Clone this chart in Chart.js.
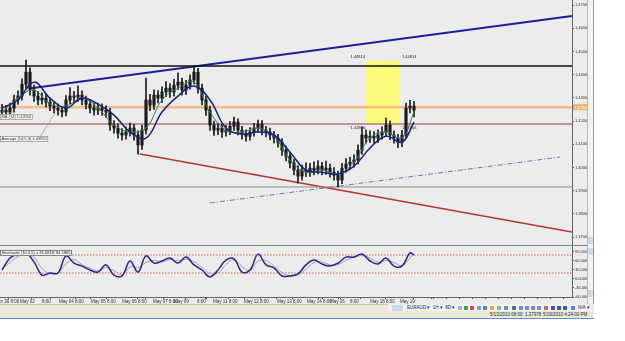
<!DOCTYPE html>
<html>
<head>
<meta charset="utf-8">
<script src="https://cdn.jsdelivr.net/npm/chart.js@4.4.0/dist/chart.umd.min.js"></script>
<style>
  body { margin: 0; background: #fff; font-family: "Liberation Sans", Arial, sans-serif; }
  #wrap { position: relative; width: 594px; height: 319px; background: #ececec; }
  #c { position: absolute; left: 0; top: 0; }
  #sb { position: absolute; left: 587px; top: 0; width: 5px; height: 304px; background: #f4f4ef; border-left: 1px solid #b8b8b8; border-right: 1px solid #9a9a9a; }
  .arr { position: absolute; left: 0; width: 5px; height: 7px; background: #c9d8ee; }
  #tb { position: absolute; left: 0; top: 304px; width: 593px; height: 13px; background: #ece9d8; border-top: 1px solid #c9c5b2; font-size: 4.5px; color: #223; }
  #tb span { position: absolute; white-space: nowrap; }
  #tb i { position: absolute; top: 1px; width: 4px; height: 4px; }
  #bl { position: absolute; left: 0; top: 318px; width: 594px; height: 1px; background: #5d8fd6; }
</style>
</head>
<body>
<div id="wrap">
  <canvas id="c" width="587" height="304"></canvas>
  <div id="sb">
    <div class="arr" style="top:237px"></div>
    <div class="arr" style="top:248px"></div>
    <div class="arr" style="top:290px"></div>
  </div>
  <div id="tb">
    <span style="left:388px;top:-1px;width:205px;height:7px;background:#f1f1ee;"></span>
    <span style="left:392px;top:0;width:11px;height:6px;background:#c9d8ee;"></span>
    <span style="left:407px;top:0;">EURAUD ▾ &nbsp;1H ▾ &nbsp;8D ▾ &nbsp; ▾</span>
    <i style="left:458px;background:#9bb7e0"></i><i style="left:464px;background:#4aa04a"></i>
    <i style="left:470px;background:#d05050"></i><i style="left:477px;background:#7aa0d8"></i>
    <i style="left:483px;background:#5b7fc0"></i><i style="left:490px;background:#e0b050"></i>
    <i style="left:497px;background:#7cc07c"></i><i style="left:504px;background:#6a8fd0"></i>
    <i style="left:512px;background:#5070b0"></i><i style="left:519px;background:#7090d0"></i>
    <i style="left:525px;background:#7090d0"></i><i style="left:531px;background:#7090d0"></i>
    <i style="left:537px;background:#7090d0"></i><i style="left:544px;background:#c07070"></i>
    <i style="left:551px;background:#3a5aa0"></i><i style="left:557px;background:#3a5aa0"></i>
    <i style="left:563px;background:#3a5aa0"></i><i style="left:571px;background:#5a8ad0"></i>
    <span style="left:578px;top:0;">N/A ▾</span>
    <span style="left:490px;top:7px;">5/13/2010 08:00 &nbsp;1.37978</span>
    <span style="left:543px;top:7px;">5/19/2010 4:24:00 PM</span>
  </div>
  <div id="bl"></div>
</div>
<script>
// candles, EURAUD H4
const openP = [
  1.4239,1.4247,1.4239,1.4256,1.4291,1.4308,1.4359,1.4411,1.4334,1.4308,
  1.4291,1.4299,1.4282,1.4265,1.4256,1.4247,1.4239,1.4291,1.4308,1.4303,
  1.4312,1.4291,1.4273,1.4256,1.4247,1.4256,1.4247,1.4239,1.4183,1.4170,
  1.4148,1.4140,1.4153,1.4170,1.4140,1.4097,1.4161,1.4291,1.4269,1.4312,
  1.4299,1.4325,1.4342,1.4325,1.4355,1.4368,1.4334,1.4355,1.4377,1.4411,
  1.4342,1.4291,1.4247,1.4183,1.4161,1.4170,1.4153,1.4161,1.4178,1.4196,
  1.4161,1.4144,1.4135,1.4153,1.4170,1.4187,1.4161,1.4153,1.4140,1.4127,
  1.4109,1.4075,1.4049,1.4019,1.3989,1.3963,1.3989,1.3980,1.3997,1.3989,
  1.4006,1.3989,1.3997,1.3980,1.3967,1.3946,1.3997,1.4015,1.4023,1.4032,
  1.4075,1.4140,1.4127,1.4135,1.4127,1.4140,1.4153,1.4183,1.4140,1.4127,
  1.4109,1.4140,1.4256,1.4265
];
const highP = [
  1.4272,1.4268,1.4278,1.4312,1.4330,1.4382,1.4463,1.4430,1.4355,1.4328,
  1.4322,1.4320,1.4300,1.4285,1.4275,1.4265,1.4310,1.4344,1.4328,1.4352,
  1.4330,1.4308,1.4292,1.4276,1.4278,1.4275,1.4266,1.4255,1.4202,1.4188,
  1.4168,1.4175,1.4192,1.4186,1.4158,1.4182,1.4385,1.4315,1.4335,1.4332,
  1.4348,1.4370,1.4362,1.4380,1.4408,1.4385,1.4376,1.4400,1.4437,1.4428,
  1.4360,1.4308,1.4265,1.4200,1.4192,1.4188,1.4182,1.4198,1.4217,1.4210,
  1.4178,1.4162,1.4172,1.4190,1.4204,1.4202,1.4178,1.4170,1.4156,1.4143,
  1.4125,1.4092,1.4065,1.4035,1.4008,1.4010,1.4020,1.4018,1.4025,1.4030,
  1.4022,1.4028,1.4015,1.4000,1.3985,1.4018,1.4038,1.4045,1.4055,1.4098,
  1.4174,1.4162,1.4158,1.4155,1.4162,1.4175,1.4213,1.4200,1.4158,1.4143,
  1.4160,1.4278,1.4290,1.4285
];
const lowP = [
  1.4218,1.4215,1.4220,1.4238,1.4272,1.4290,1.4340,1.4312,1.4285,1.4270,
  1.4273,1.4260,1.4245,1.4235,1.4226,1.4218,1.4222,1.4275,1.4282,1.4285,
  1.4270,1.4252,1.4235,1.4226,1.4228,1.4225,1.4216,1.4160,1.4148,1.4126,
  1.4118,1.4122,1.4135,1.4118,1.4058,1.4078,1.4145,1.4245,1.4250,1.4278,
  1.4280,1.4305,1.4302,1.4308,1.4335,1.4312,1.4315,1.4338,1.4360,1.4320,
  1.4270,1.4225,1.4160,1.4138,1.4142,1.4130,1.4135,1.4142,1.4160,1.4140,
  1.4122,1.4114,1.4118,1.4135,1.4152,1.4140,1.4132,1.4120,1.4106,1.4088,
  1.4052,1.4028,1.3998,1.3968,1.3933,1.3945,1.3960,1.3962,1.3968,1.3972,
  1.3968,1.3970,1.3958,1.3945,1.3916,1.3930,1.3980,1.3995,1.4002,1.4015,
  1.4058,1.4105,1.4108,1.4105,1.4108,1.4122,1.4135,1.4120,1.4105,1.4085,
  1.4090,1.4125,1.4235,1.4218
];
const closeP = [
  1.4247,1.4239,1.4256,1.4291,1.4308,1.4359,1.4411,1.4334,1.4308,1.4291,
  1.4299,1.4282,1.4265,1.4256,1.4247,1.4239,1.4291,1.4308,1.4303,1.4312,
  1.4291,1.4273,1.4256,1.4247,1.4256,1.4247,1.4239,1.4183,1.4170,1.4148,
  1.4140,1.4153,1.4170,1.4140,1.4097,1.4161,1.4291,1.4269,1.4312,1.4299,
  1.4325,1.4342,1.4325,1.4355,1.4368,1.4334,1.4355,1.4377,1.4411,1.4342,
  1.4291,1.4247,1.4183,1.4161,1.4170,1.4153,1.4161,1.4178,1.4196,1.4161,
  1.4144,1.4135,1.4153,1.4170,1.4187,1.4161,1.4153,1.4140,1.4127,1.4109,
  1.4075,1.4049,1.4019,1.3989,1.3963,1.3989,1.3980,1.3997,1.3989,1.4006,
  1.3989,1.3997,1.3980,1.3967,1.3946,1.3997,1.4015,1.4023,1.4032,1.4075,
  1.4140,1.4127,1.4135,1.4127,1.4140,1.4153,1.4183,1.4140,1.4127,1.4109,
  1.4140,1.4256,1.4265,1.4247
];

// moving averages, read every 4th candle
const maIdx = [0,4,8,12,16,20,24,28,32,36,40,44,48,52,56,60,64,68,72,76,80,84,88,92,96,100,103];
const maSlow = [1.4256,1.4291,1.4368,1.4299,1.4256,1.4299,1.4273,1.4226,1.4153,1.4127,1.4239,1.4308,1.4351,
  1.4291,1.4170,1.4144,1.4153,1.4140,1.4066,1.3989,1.3980,1.3972,1.4006,1.4084,1.4135,1.4109,1.4196];
const maFast = [1.4239,1.4299,1.4334,1.4273,1.4265,1.4299,1.4256,1.4183,1.4153,1.4170,1.4291,1.4342,1.4368,
  1.4239,1.4161,1.4153,1.4170,1.4135,1.4032,1.3980,1.3989,1.3972,1.4023,1.4127,1.4153,1.4127,1.4239];

// oscillator, every 2nd candle (last one at 103)
const oscMain = [30,70,83,87,57,13,20,20,77,53, 43,30,23,47,13,10,60,23,77,53,
  60,70,53,73,47,30,7,30,63,67, 23,30,83,47,37,10,10,17,47,63,
  50,43,53,73,73,83,60,50,70,43, 43,87,80];
const oscSignal = [35,55,75,84,72,35,18,20,50,65, 48,36,27,38,28,14,40,38,55,62,
  57,65,60,66,58,38,18,20,48,64, 42,28,60,62,42,22,10,14,32,55,
  57,47,48,62,72,78,70,56,62,55, 45,70,84];
const oscLevels = [80, 20];

// drawn objects
const hLevels = [1.4437, 1.4260, 1.4187, 1.3916];
const trendBlue = [[7.25, 1.4342], [142.5, 1.4653]];
const trendRed = [[34.5, 1.4058], [142.5, 1.3722]];
const trendDash = [[52, 1.3847], [139.5, 1.4045]];
const boxX = [91, 99.5];
const boxY = [1.4187, 1.4459];
const boxText = ['1.44814', '1.41866'];
const lastPrice = 1.4260;

// axes
const priceTicks = [1.37,1.38,1.39,1.40,1.41,1.42,1.43,1.44,1.45,1.46,1.47];
const oscTicks = [90, 60, 30, 0, -30, -60];
const timeTicks = [-1.5,4.5,10,14.25,22.25,30,37.75,43,48.75,52.75,60.5,68.75,76.25,82,87,92,99.5,
  106.25,109.5,112.75,116,119.25,122.5,125.75,129,132.25,135.5,138.75,142,
  18.25,26,45.5,56.5,64.5,72.5,95.75];
const timeLabels = ['Apr 30 8:00','May 02','8:00','May 04 8:00','May 05 8:00','May 06 8:00','May 07 8:00',
  'May 09','8:00','May 11 8:00','May 12 8:00','May 13 8:00','May 14 8:00','May 16','8:00','May 18 8:00','May 19'];

const idx = closeP.map((_, i) => i);
const line = (pts) => pts.map(p => ({x: p[0], y: p[1]}));
const FULL = [-0.5, 142.5];

const datasets = [
  { type: 'bar', data: idx.map(i => ({x: i, y: [lowP[i], highP[i]]})),
    backgroundColor: '#1b1b1b', barThickness: 1, grouped: false, yAxisID: 'y', order: 2 },
  { type: 'bar', data: idx.map(i => ({x: i, y: [Math.min(openP[i], closeP[i]), Math.max(openP[i], closeP[i])]})),
    backgroundColor: '#1b1b1b', barThickness: 2.5, minBarLength: 1, grouped: false, yAxisID: 'y', order: 2 },
  { data: maIdx.map((v, i) => ({x: v, y: maSlow[i]})), borderColor: '#1d1d8f', borderWidth: 1.5, tension: 0.4, order: 1 },
  { data: maIdx.map((v, i) => ({x: v, y: maFast[i]})), borderColor: '#2f8a4f', borderWidth: 1, tension: 0.4, order: 1 },
  { data: line([[FULL[0], hLevels[0]], [FULL[1], hLevels[0]]]), borderColor: '#111', borderWidth: 1.5, order: 3 },
  { data: line([[FULL[0], hLevels[1]], [FULL[1], hLevels[1]]]), borderColor: '#f3bd86', borderWidth: 2.5, order: 3 },
  { data: line([[FULL[0], hLevels[2]], [FULL[1], hLevels[2]]]), borderColor: '#c07272', borderWidth: 1.5, order: 3 },
  { data: line([[FULL[0], hLevels[3]], [FULL[1], hLevels[3]]]), borderColor: '#8a8a8a', borderWidth: 1, order: 3 },
  { data: line(trendBlue), borderColor: '#1e1e9a', borderWidth: 2, order: 3 },
  { data: line(trendRed), borderColor: '#b43434', borderWidth: 1.5, order: 3 },
  { data: line(trendDash), borderColor: '#7878ad', borderWidth: 1, borderDash: [5, 2, 1, 2], order: 3 },
  { data: line([[FULL[0], oscLevels[0]], [FULL[1], oscLevels[0]]]), yAxisID: 'y2', borderColor: '#d46060', borderWidth: 1, borderDash: [1.5, 1.5], order: 3 },
  { data: line([[FULL[0], oscLevels[1]], [FULL[1], oscLevels[1]]]), yAxisID: 'y2', borderColor: '#d46060', borderWidth: 1, borderDash: [1.5, 1.5], order: 3 },
  { data: oscSignal.map((v, i) => ({x: Math.min(i * 2, 103), y: v})), yAxisID: 'y2', borderColor: '#a0a0c4', borderWidth: 1, tension: 0.4, order: 1 },
  { data: oscMain.map((v, i) => ({x: Math.min(i * 2, 103), y: v})), yAxisID: 'y2', borderColor: '#26268c', borderWidth: 1.5, tension: 0.4, order: 0 }
];
datasets.forEach(d => { if (!d.type) { d.type = 'line'; d.pointRadius = 0; if (!d.yAxisID) d.yAxisID = 'y'; } });

function tagBox(ctx, text, x, y, pad, fill, stroke, color) {
  const w = ctx.measureText(text).width + pad * 2;
  ctx.fillStyle = fill; ctx.fillRect(x, y, w, 6);
  ctx.strokeStyle = stroke; ctx.lineWidth = 0.7; ctx.strokeRect(x + 0.5, y + 0.5, w - 1, 5);
  ctx.fillStyle = color; ctx.textAlign = 'left'; ctx.textBaseline = 'middle';
  ctx.fillText(text, x + pad, y + 3.2);
  return w;
}

// no edge padding, so the plot runs to the canvas edges like the terminal
const noPad = s => { s.paddingLeft = 0; s.paddingRight = 0; s.paddingTop = 0; s.paddingBottom = 0; };

const overlay = {
  id: 'overlay',
  beforeDraw(chart) {
    const {ctx, width, height} = chart;
    ctx.save(); ctx.fillStyle = '#ececec'; ctx.fillRect(0, 0, width, height); ctx.restore();
  },
  beforeDatasetsDraw(chart) {
    const {ctx, scales: {x, y}} = chart;
    const l = x.getPixelForValue(boxX[0]), r = x.getPixelForValue(boxX[1]);
    const t = y.getPixelForValue(boxY[1]), b = y.getPixelForValue(boxY[0]);
    ctx.save();
    ctx.fillStyle = '#fbfb7c';
    ctx.fillRect(l, t, r - l, b - t);
    ctx.font = '4px "Liberation Sans"'; ctx.fillStyle = '#222'; ctx.textBaseline = 'middle';
    ctx.textAlign = 'right';
    ctx.fillText(boxText[0], l - 1, t - 4); ctx.fillText(boxText[1], l - 1, b + 4);
    ctx.textAlign = 'left';
    ctx.fillText(boxText[0], r + 2, t - 4); ctx.fillText(boxText[1], r + 2, b + 4);
    ctx.restore();
  },
  afterDraw(chart) {
    const {ctx, chartArea: a, scales: {y, y2}} = chart;
    ctx.save();
    // pane separator
    ctx.strokeStyle = '#7c7c7c'; ctx.lineWidth = 1;
    ctx.beginPath(); ctx.moveTo(a.left, Math.round(y2.top) + 0.5); ctx.lineTo(a.right + 15, Math.round(y2.top) + 0.5); ctx.stroke();
    // last price tag
    const py = y.getPixelForValue(lastPrice);
    ctx.fillStyle = '#f2b062'; ctx.fillRect(a.right + 1, py - 3, 14, 6);
    ctx.font = '4px "Liberation Sans"'; ctx.fillStyle = '#fff'; ctx.textAlign = 'left'; ctx.textBaseline = 'middle';
    ctx.fillText(lastPrice.toFixed(5), a.right + 2, py + 0.3);
    // indicator labels
    ctx.font = '4px "Liberation Sans"';
    ctx.strokeStyle = '#9a9a9a'; ctx.lineWidth = 0.7;
    ctx.beginPath(); ctx.moveTo(40, 137); ctx.lineTo(55, 113); ctx.stroke();
    tagBox(ctx, 'MA (14) 1.42550', 0, 114, 1.5, '#f4f4f4', '#8c8c8c', '#333');
    tagBox(ctx, 'Average (14,5,3) 1.43550', 0, 136, 1.5, '#f4f4f4', '#8c8c8c', '#333');
    tagBox(ctx, 'Stochastic (10,5,5) = 81.6818, 84.1865', 0, 250, 1.5, '#f6f6f6', '#555', '#222');
    ctx.restore();
  }
};

new Chart(document.getElementById('c'), {
  type: 'line',
  data: { datasets },
  plugins: [overlay],
  options: {
    responsive: false,
    animation: false,
    events: [],
    layout: { padding: 0 },
    plugins: { legend: { display: false }, tooltip: { enabled: false } },
    scales: {
      x: {
        type: 'linear', min: FULL[0], max: FULL[1], offset: false,
        afterBuildTicks: s => { s.ticks = timeTicks.map(v => ({value: v})); },
        afterFit: s => { s.height = 7; noPad(s); },
        ticks: { autoSkip: false, maxRotation: 0, align: 'start', padding: 0,
          font: { size: 4.5, family: 'Liberation Sans' }, color: '#333',
          callback: (v, i) => timeLabels[i] || '' },
        grid: { drawOnChartArea: false, tickLength: 2, color: '#555' },
        border: { color: '#666' }
      },
      y: {
        type: 'linear', position: 'right', stack: 'pane', stackWeight: 245,
        min: 1.3666, max: 1.4722,
        afterBuildTicks: s => { s.ticks = priceTicks.map(v => ({value: v})); },
        afterFit: s => { s.width = 15; noPad(s); },
        ticks: { autoSkip: false, padding: 1, font: { size: 4, family: 'Liberation Sans' }, color: '#333',
          callback: v => v.toFixed(5) },
        grid: { drawOnChartArea: false, tickLength: 2, color: '#555' },
        border: { color: '#666' }
      },
      y2: {
        type: 'linear', position: 'right', stack: 'pane', stackWeight: 52,
        min: -60, max: 113.3,
        afterBuildTicks: s => { s.ticks = oscTicks.map(v => ({value: v})); },
        afterFit: s => { s.width = 15; noPad(s); },
        ticks: { autoSkip: false, padding: 1, font: { size: 4, family: 'Liberation Sans' }, color: '#333',
          callback: v => v.toFixed(4) },
        grid: { drawOnChartArea: false, tickLength: 2, color: '#555' },
        border: { color: '#666' }
      }
    }
  }
});
</script>
</body>
</html>
